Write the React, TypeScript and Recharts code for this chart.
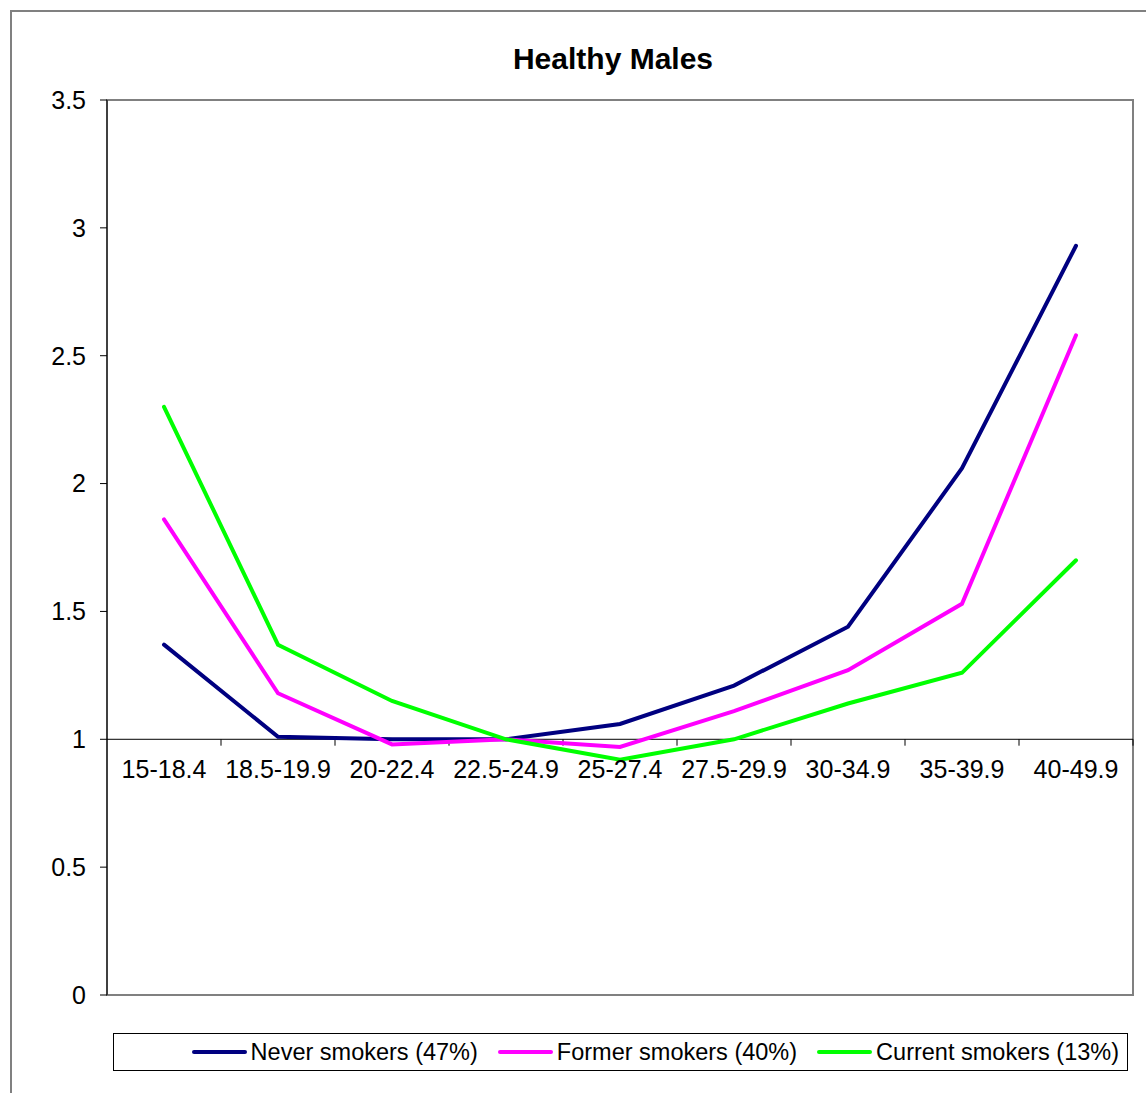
import React from 'react';
import {
    LineChart,
    Line,
    XAxis,
    YAxis,
    ReferenceLine,
    ReferenceDot,
    ReferenceArea,
} from 'recharts';

const categories = ['15-18.4', '18.5-19.9', '20-22.4', '22.5-24.9', '25-27.4', '27.5-29.9', '30-34.9', '35-39.9', '40-49.9'];
const neverSmokers = [1.37, 1.01, 1.0, 1.0, 1.06, 1.21, 1.44, 2.06, 2.93];
const formerSmokers = [1.86, 1.18, 0.98, 1.0, 0.97, 1.11, 1.27, 1.53, 2.58];
const currentSmokers = [2.3, 1.37, 1.15, 1.0, 0.92, 1.0, 1.14, 1.26, 1.7];
const yTicks = [0, 0.5, 1, 1.5, 2, 2.5, 3, 3.5];

const series = [
    { key: 'never', name: 'Never smokers (47%)', color: '#000080', values: neverSmokers },
    { key: 'former', name: 'Former smokers (40%)', color: '#FF00FF', values: formerSmokers },
    { key: 'current', name: 'Current smokers (13%)', color: '#00FF00', values: currentSmokers },
];

// categories sit in the middle of each band, like Excel's "between tick marks"
const data = categories.map((name, i) => {
    const row: Record<string, number | string> = { x: i + 0.5, name };
    series.forEach(s => { row[s.key] = s.values[i]; });
    return row;
});

const TICK_LEN = 0.025; // short downward tick marks on the x axis (value units)
const font = '"Liberation Sans", Arial, sans-serif';

const App: React.FC = () => {
    return (
        <div style={{ position: 'fixed', left: 0, top: 0, width: 1146, height: 1093, overflow: 'hidden', background: '#fff', fontFamily: font }}>
            <div style={{ position: 'absolute', left: 10, top: 10, width: 1200, height: 1200, border: '2px solid #808080' }} />
            <div style={{ position: 'absolute', left: 363, top: 44, width: 500, textAlign: 'center', fontSize: 30, fontWeight: 'bold', lineHeight: '30px' }}>
                Healthy Males
            </div>
            <div style={{ position: 'absolute', left: 0, top: 0 }}>
                <LineChart width={1146} height={1093} data={data} margin={{ top: 100, right: 13, left: 47, bottom: 98 }}>
                    <ReferenceArea x1={0} x2={categories.length} y1={0} y2={3.5} fill="none" stroke="#808080" strokeWidth={2} />
                    <XAxis type="number" dataKey="x" domain={[0, categories.length]} hide />
                    <YAxis
                        width={60}
                        domain={[0, 3.5]}
                        ticks={yTicks}
                        axisLine={{ stroke: '#000' }}
                        tickLine={{ stroke: '#000' }}
                        tickSize={7}
                        tickMargin={14}
                        tick={{ fill: '#000', fontSize: 25 }}
                    />
                    <ReferenceLine y={1} stroke="#000" />
                    {categories.map((_, i) => (
                        <ReferenceLine
                            key={'t' + i}
                            segment={[{ x: i + 1, y: 1 }, { x: i + 1, y: 1 - TICK_LEN }]}
                            stroke="#000"
                        />
                    ))}
                    {categories.map((c, i) => (
                        <ReferenceDot
                            key={'l' + i}
                            x={i + 0.5}
                            y={1}
                            r={0}
                            fill="none"
                            stroke="none"
                            label={{ value: c, position: 'bottom', offset: 21, fontSize: 25, fill: '#000' }}
                        />
                    ))}
                    {series.map(s => (
                        <Line
                            key={s.key}
                            type="linear"
                            dataKey={s.key}
                            name={s.name}
                            stroke={s.color}
                            strokeWidth={4}
                            strokeLinecap="round"
                            dot={false}
                            activeDot={false}
                            isAnimationActive={false}
                        />
                    ))}
                </LineChart>
            </div>
            <div style={{
                position: 'absolute', left: 113, top: 1033, width: 1013, height: 36,
                border: '1px solid #000', display: 'flex', alignItems: 'center',
                justifyContent: 'flex-end', boxSizing: 'content-box',
            }}>
                {series.map(s => (
                    <div key={s.key} style={{ display: 'flex', alignItems: 'center', marginRight: 8, marginLeft: 12 }}>
                        <div style={{ width: 55, height: 4, borderRadius: 2, background: s.color, marginRight: 4 }} />
                        <span style={{ fontSize: 23.5, whiteSpace: 'nowrap' }}>{s.name}</span>
                    </div>
                ))}
            </div>
        </div>
    );
};

export default App;
